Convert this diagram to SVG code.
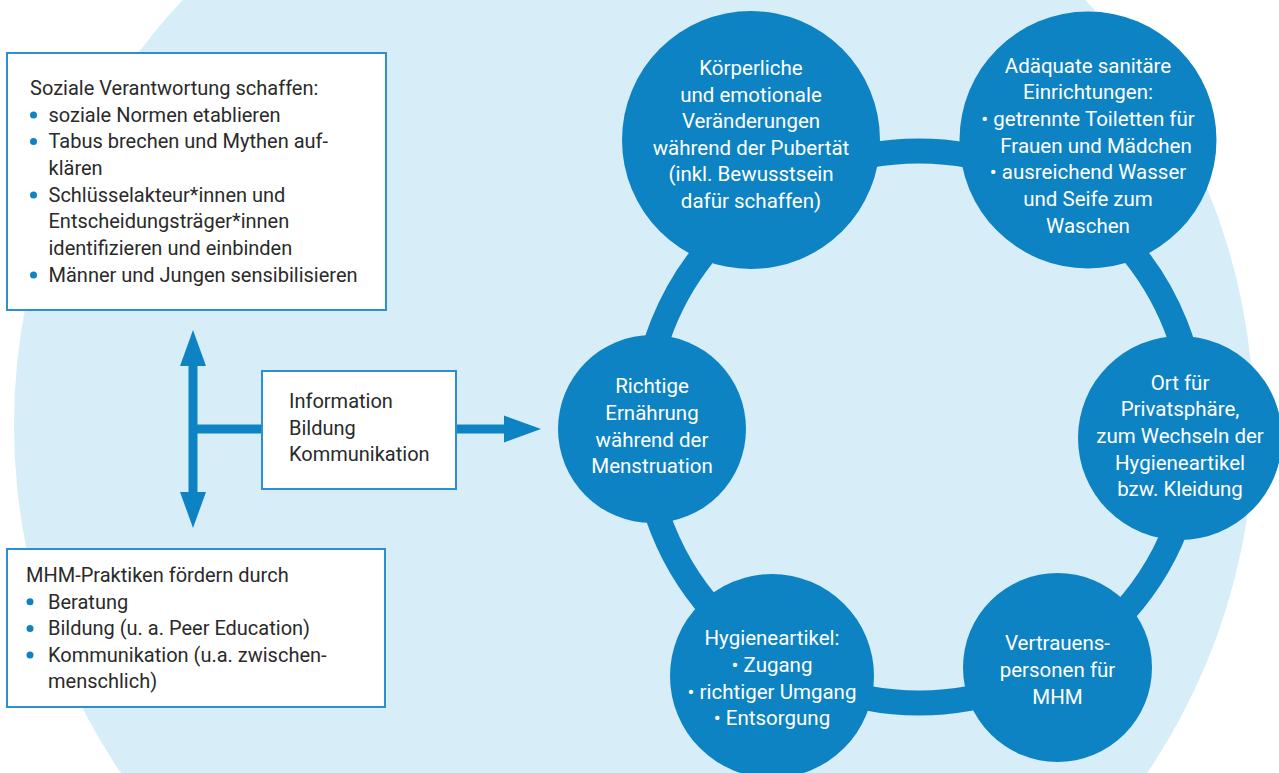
<svg xmlns="http://www.w3.org/2000/svg" width="1279" height="773" viewBox="0 0 1279 773">
<style>
.t{font-family:Roboto,"Liberation Sans",sans-serif;font-size:20px;fill:#2a2a2a}
.c{font-family:Roboto,"Liberation Sans",sans-serif;font-size:20.5px;fill:#ffffff;text-anchor:middle}
.box{fill:#ffffff;stroke:#2b8fd1;stroke-width:2}
.node{fill:#0e83c3}
.dot{fill:#0e83c3}
.bar{fill:none;stroke:#0e83c3;stroke-width:9}
.ah{fill:#0e83c3}
</style>
<rect width="1279" height="773" fill="#ffffff"/>
<circle cx="634" cy="425" r="620" fill="#d7eef9"/>

<g id="connectors">
  <circle cx="919" cy="427" r="276" fill="none" stroke="#0e83c3" stroke-width="25"/>
  <line class="bar" x1="193" y1="362" x2="193" y2="496"/>
  <line class="bar" x1="193" y1="429" x2="262" y2="429"/>
  <line class="bar" x1="456" y1="429" x2="506" y2="429"/>
  <polygon class="ah" points="193,330 206,366 180,366"/>
  <polygon class="ah" points="193,528 206,492 180,492"/>
  <polygon class="ah" points="541,429 504,415.5 504,442.5"/>
</g>

<g id="box-soziale">
  <rect class="box" x="7" y="53" width="379" height="257"/>
  <text class="t" x="30" y="95">Soziale Verantwortung schaffen:</text>
  <circle class="dot" cx="33.5" cy="115" r="3.5"/>
  <text class="t" x="48.5" y="121.7">soziale Normen etablieren</text>
  <circle class="dot" cx="33.5" cy="141.6" r="3.5"/>
  <text class="t" x="48.5" y="148.3">Tabus brechen und Mythen auf-</text>
  <text class="t" x="48.5" y="175">klären</text>
  <circle class="dot" cx="33.5" cy="195" r="3.5"/>
  <text class="t" x="48.5" y="201.7">Schlüsselakteur*innen und</text>
  <text class="t" x="48.5" y="228.3">Entscheidungsträger*innen</text>
  <text class="t" x="48.5" y="255">identifizieren und einbinden</text>
  <circle class="dot" cx="33.5" cy="275" r="3.5"/>
  <text class="t" x="48.5" y="281.7">Männer und Jungen sensibilisieren</text>
</g>

<g id="box-ibk">
  <rect class="box" x="262" y="371" width="194" height="118"/>
  <text class="t" x="289" y="408">Information</text>
  <text class="t" x="289" y="434.7">Bildung</text>
  <text class="t" x="289" y="461.3">Kommunikation</text>
</g>

<g id="box-mhm">
  <rect class="box" x="7" y="549" width="378" height="158"/>
  <text class="t" x="26" y="582">MHM-Praktiken fördern durch</text>
  <circle class="dot" cx="30" cy="601.8" r="3.5"/>
  <text class="t" x="48" y="608.5">Beratung</text>
  <circle class="dot" cx="30" cy="628.4" r="3.5"/>
  <text class="t" x="48" y="635.1">Bildung (u. a. Peer Education)</text>
  <circle class="dot" cx="30" cy="655" r="3.5"/>
  <text class="t" x="48" y="661.7">Kommunikation (u.a. zwischen-</text>
  <text class="t" x="48" y="688.3">menschlich)</text>
</g>

<g id="node-koerper">
  <circle class="node" cx="751" cy="140" r="129"/>
  <text class="c" x="751" y="75">Körperliche</text>
  <text class="c" x="751" y="101.5">und emotionale</text>
  <text class="c" x="751" y="128">Veränderungen</text>
  <text class="c" x="751" y="154.5">während der Pubertät</text>
  <text class="c" x="751" y="181">(inkl. Bewusstsein</text>
  <text class="c" x="751" y="207.5">dafür schaffen)</text>
</g>

<g id="node-sanitaer">
  <circle class="node" cx="1088" cy="140" r="128.5"/>
  <text class="c" x="1088" y="72.7">Adäquate sanitäre</text>
  <text class="c" x="1088" y="99.3">Einrichtungen:</text>
  <text class="c" x="1088" y="126">• getrennte Toiletten für</text>
  <text class="c" x="1096" y="152.7">Frauen und Mädchen</text>
  <text class="c" x="1088" y="179.3">• ausreichend Wasser</text>
  <text class="c" x="1088" y="206">und Seife zum</text>
  <text class="c" x="1088" y="232.7">Waschen</text>
</g>

<g id="node-ernaehrung">
  <circle class="node" cx="652" cy="429" r="94"/>
  <text class="c" x="652" y="393.3">Richtige</text>
  <text class="c" x="652" y="420">Ernährung</text>
  <text class="c" x="652" y="446.7">während der</text>
  <text class="c" x="652" y="473.3">Menstruation</text>
</g>

<g id="node-privat">
  <circle class="node" cx="1180" cy="438" r="102"/>
  <text class="c" x="1180" y="389.7">Ort für</text>
  <text class="c" x="1180" y="416.3">Privatsphäre,</text>
  <text class="c" x="1180" y="443">zum Wechseln der</text>
  <text class="c" x="1180" y="469.7">Hygieneartikel</text>
  <text class="c" x="1180" y="496.3">bzw. Kleidung</text>
</g>

<g id="node-hygiene">
  <circle class="node" cx="772" cy="676" r="102"/>
  <text class="c" x="772" y="645.3">Hygieneartikel:</text>
  <text class="c" x="772" y="672">• Zugang</text>
  <text class="c" x="772" y="698.7">• richtiger Umgang</text>
  <text class="c" x="772" y="725.3">• Entsorgung</text>
</g>

<g id="node-vertrauen">
  <circle class="node" cx="1057.5" cy="667.5" r="94.5"/>
  <text class="c" x="1057.5" y="650.3">Vertrauens-</text>
  <text class="c" x="1057.5" y="677">personen für</text>
  <text class="c" x="1057.5" y="703.7">MHM</text>
</g>
</svg>
